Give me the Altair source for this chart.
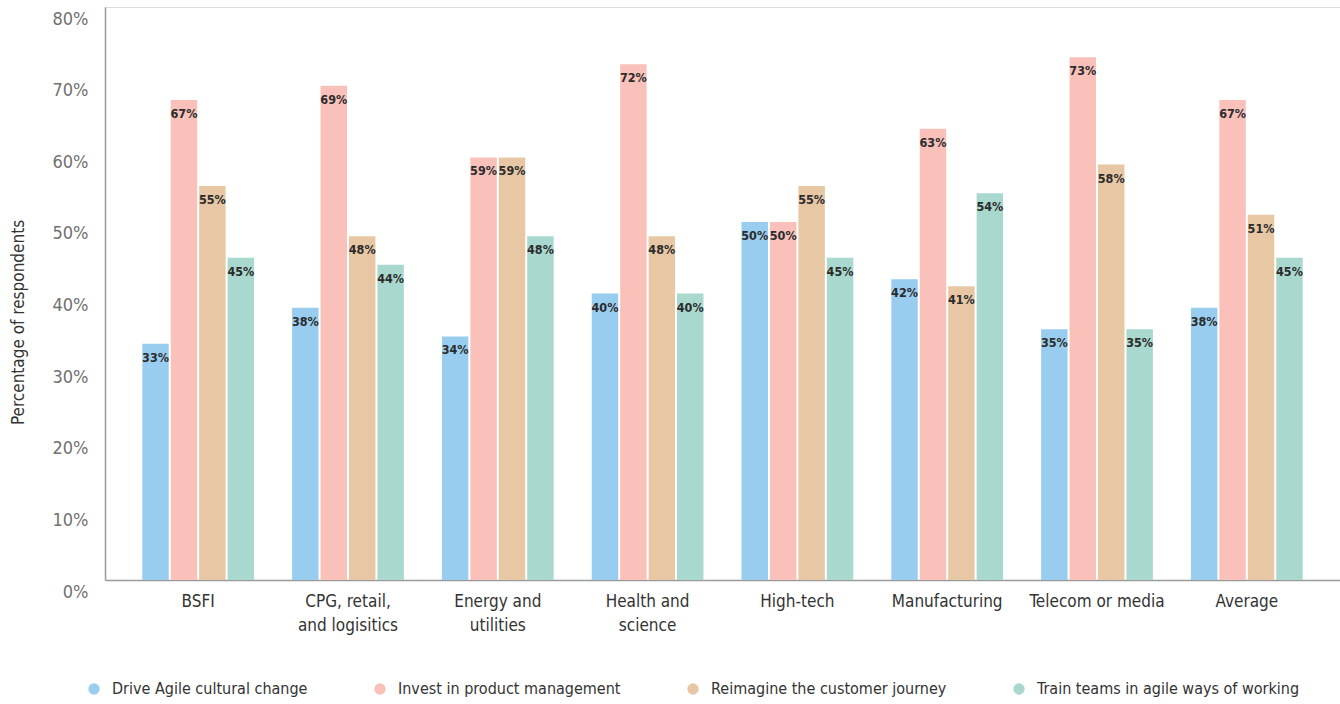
import altair as alt
import pandas as pd

categories = ["BSFI", "CPG, retail,\nand logisitics", "Energy and\nutilities", "Health and\nscience",
              "High-tech", "Manufacturing", "Telecom or media", "Average"]
series = ["Drive Agile cultural change", "Invest in product management",
          "Reimagine the customer journey", "Train teams in agile ways of working"]
drive = [33, 38, 34, 40, 50, 42, 35, 38]
invest = [67, 69, 59, 72, 50, 63, 73, 67]
reimagine = [55, 48, 59, 48, 55, 41, 58, 51]
train = [45, 44, 48, 40, 45, 54, 35, 45]
colors = ["#99CDEF", "#F9C1BA", "#E8C7A5", "#A9D8CE"]

rows = []
for s, vals in zip(series, [drive, invest, reimagine, train]):
    for c, v in zip(categories, vals):
        rows.append({"category": c, "series": s, "value": v, "label": f"{v}%"})
df = pd.DataFrame(rows)

FONT = "Liberation Sans Narrow, DejaVu Sans Condensed, Arial Narrow, sans-serif"

x = alt.X("category:N", sort=categories,
          scale=alt.Scale(paddingInner=0.254, paddingOuter=0.249),
          axis=alt.Axis(title=None, labelAngle=0, ticks=False, domainColor="#9a9a9a", domainWidth=1.5,
                        labelFontSize=17, labelColor="#333333", labelFont=FONT, labelPadding=13,
                        labelLineHeight=24, labelExpr="split(datum.label, '\\n')"))
xo = alt.XOffset("series:N", sort=series, scale=alt.Scale(paddingInner=0.07))
y = alt.Y("value:Q", scale=alt.Scale(domain=[0, 80], nice=False),
          axis=alt.Axis(title="Percentage of respondents", values=list(range(0, 81, 10)),
                        labelExpr="datum.value + '%'", grid=False, ticks=False,
                        domainColor="#9a9a9a", domainWidth=1.5,
                        labelFontSize=18, labelColor="#707070", labelFont=FONT, labelPadding=17,
                        labelOffset=12,
                        titleFontSize=17, titleColor="#333333", titleFont=FONT, titleFontWeight="normal",
                        titleX=-87, titleY=315, titleBaseline="middle", titleAlign="center"))
color = alt.Color("series:N", sort=series, scale=alt.Scale(domain=series, range=colors),
                  legend=alt.Legend(title=None, orient="none", legendX=-19, legendY=674,
                                    direction="horizontal", symbolType="circle", symbolSize=130,
                                    symbolStrokeWidth=0, symbolOpacity=1, labelFontSize=16,
                                    labelColor="#333333", labelFont=FONT, labelOffset=10,
                                    labelLimit=0, columnPadding=64))

bars = alt.Chart(df).mark_bar(opacity=1).encode(x=x, xOffset=xo, y=y, color=color)
text = alt.Chart(df).mark_text(baseline="top", dy=8, fontSize=12.5, fontWeight="bold",
                               font=FONT, color="#2b2b2b").encode(
    x=x, xOffset=xo, y=y, text="label:N")

chart = alt.layer(bars, text).properties(
    width=1235, height=573,
    autosize=alt.AutoSizeParams(type="none"),
    padding={"left": 105, "top": 7, "right": 0, "bottom": 124},
).configure_view(stroke=None).configure(background="white")

chart.save("out.html", embed_options={"renderer": "svg", "actions": False})
